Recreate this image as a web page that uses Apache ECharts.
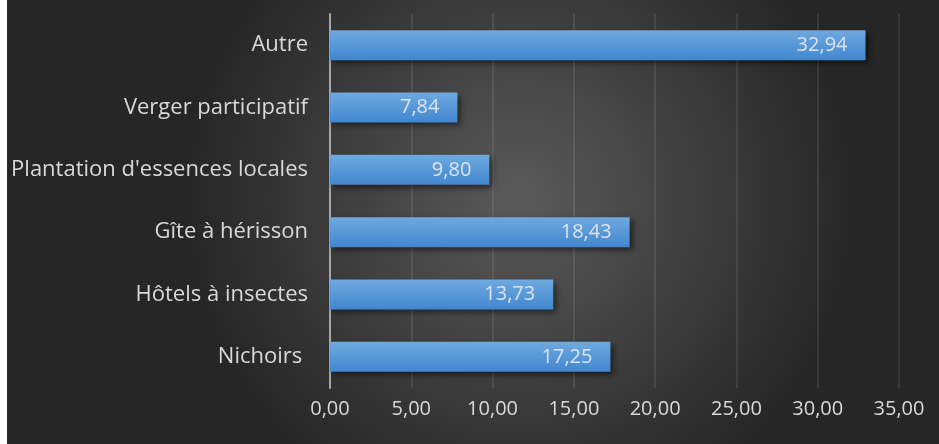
<!DOCTYPE html>
<html><head><meta charset="utf-8">
<script src="https://cdn.jsdelivr.net/npm/echarts@6/dist/echarts.min.js"></script>
<style>
html,body{margin:0;padding:0;background:#fff;}
#c{position:absolute;left:7px;top:0;width:932px;height:444px;}
</style></head>
<body><div id="c"></div>
<script>
const categories = ["Nichoirs ", "Hôtels à insectes", "Gîte à hérisson", "Plantation d'essences locales", "Verger participatif", "Autre"];
const values = [17.25, 13.73, 18.43, 9.80, 7.84, 32.94];
const axisMin = 0, axisMax = 35, axisStep = 5;

const fmt = v => Number(v).toFixed(2).replace('.', ',');
const font = "'Open Sans', sans-serif";
const chart = echarts.init(document.getElementById('c'));
chart.setOption({
  backgroundColor: {
    type: 'radial', x: 0.55, y: 0.45, r: 0.75,
    colorStops: [{offset: 0, color: '#5a5a5a'}, {offset: 1, color: '#262626'}]
  },
  animation: false,
  grid: {left: 323, right: 40, top: 14, bottom: 56},
  xAxis: {
    type: 'value', min: axisMin, max: axisMax, interval: axisStep,
    axisLine: {show: false}, axisTick: {show: false},
    splitLine: {show: true, lineStyle: {color: 'rgba(255,255,255,0.12)', width: 1.5}},
    axisLabel: {color: '#d9d9d9', fontSize: 20, fontFamily: font, margin: 11, formatter: fmt}
  },
  yAxis: {
    type: 'category', data: categories,
    axisLine: {show: true, lineStyle: {color: '#a6a6a6', width: 2}},
    axisTick: {show: false},
    axisLabel: {color: '#d9d9d9', fontSize: 22, fontFamily: font, margin: 22}
  },
  series: [{
    type: 'bar', data: values, barWidth: '48%',
    itemStyle: {
      color: {type: 'linear', x: 0, y: 0, x2: 0, y2: 1,
        colorStops: [{offset: 0, color: '#6fa9df'}, {offset: 1, color: '#4187cf'}]},
      shadowBlur: 6, shadowOffsetX: 3, shadowOffsetY: 3, shadowColor: 'rgba(0,0,0,0.55)'
    },
    label: {show: true, position: 'insideRight', distance: 18, color: '#dde3ec', fontSize: 20, fontFamily: font, formatter: p => fmt(p.value)}
  }]
});
</script></body></html>
